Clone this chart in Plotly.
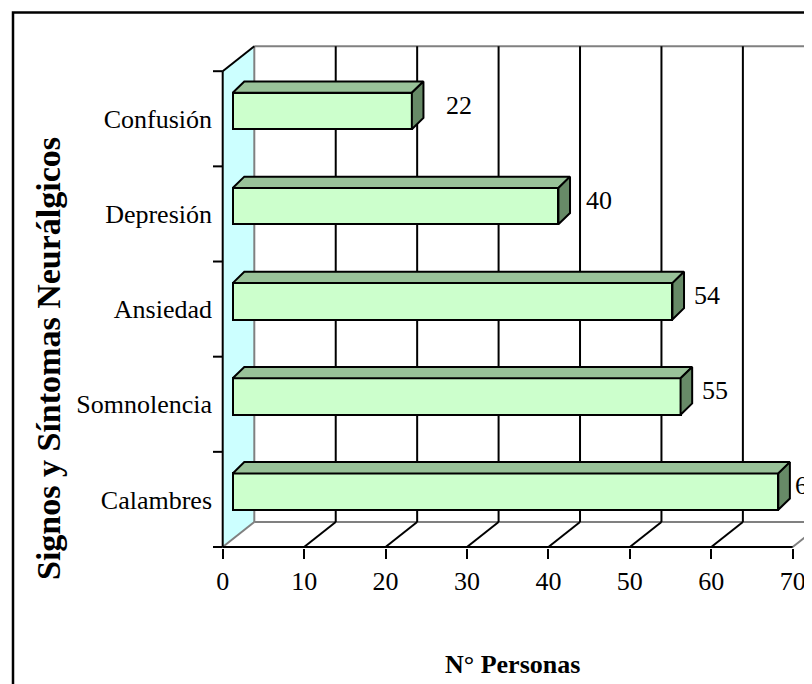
import plotly.graph_objects as go

categorias = ["Calambres", "Somnolencia", "Ansiedad", "Depresión", "Confusión"]
personas = [67, 55, 54, 40, 22]
ticks_x = [0, 10, 20, 30, 40, 50, 60, 70]

# the page adds an 8px body margin, so the figure is 8px smaller and everything
# below is measured in the figure's own pixels (reference pixel - 8)
OFF = 8
W, H = 812 - OFF, 684 - OFF
ML, MR, MT, MB = 213 - OFF, 0, 30 - OFF, H - (548 - OFF)
PX_X = 8.143           # pixels per persona
PX_Y = 95.16           # pixels per category
X0_PX = 222.7 - OFF    # pixel where 0 sits on the front axis
FONT = "Liberation Serif, Times New Roman, serif"

# axis ranges so that the front axis lands where the original has it
x_min = (ML - X0_PX) / PX_X
x_max = x_min + (W - ML - MR) / PX_X
y_min = -0.5 - 1 / PX_Y
y_max = y_min + (H - MT - MB) / PX_Y

# fake 3D: depth of walls and bars as data offsets
wdx, wdy = 31.6 / PX_X, 25 / PX_Y
bx0, by0 = 10 / PX_X, 7.8 / PX_Y
bdx, bdy = 11.6 / PX_X, 11.3 / PX_Y
bh = 36.4 / PX_Y

y_lo, y_hi = -0.5, len(categorias) - 0.5
x_end = ticks_x[-1]


def px_to_paper(px, py):
    # px, py in reference pixels
    px, py = px - OFF, py - OFF
    return (px - ML) / (W - ML - MR), (H - MB - py) / (H - MT - MB)


def line(x0, y0, x1, y1, color="black"):
    return dict(type="line", xref="x", yref="y", x0=x0, y0=y0, x1=x1, y1=y1,
                line=dict(color=color, width=2), layer="below")


fig = go.Figure()

# bars: front face
ys = [i + by0 for i in range(len(categorias))]
fig.add_trace(go.Bar(
    x=personas,
    y=ys,
    base=bx0,
    orientation="h",
    width=bh,
    marker=dict(color="#CCFFCC", line=dict(color="black", width=2)),
    hoverinfo="skip",
    showlegend=False
))

# bars: top and side faces
top_x, top_y, side_x, side_y = [], [], [], []
for v, y in zip(personas, ys):
    x0, x1 = bx0, bx0 + v
    yt, yb = y + bh / 2, y - bh / 2
    top_x += [x0, x0 + bdx, x1 + bdx, x1, x0, None]
    top_y += [yt, yt + bdy, yt + bdy, yt, yt, None]
    side_x += [x1, x1 + bdx, x1 + bdx, x1, x1, None]
    side_y += [yt, yt + bdy, yb + bdy, yb, yt, None]

fig.add_trace(go.Scatter(x=top_x, y=top_y, mode="lines", fill="toself",
                         fillcolor="#99C299", line=dict(color="black", width=2),
                         hoverinfo="skip", showlegend=False))
fig.add_trace(go.Scatter(x=side_x, y=side_y, mode="lines", fill="toself",
                         fillcolor="#678A67", line=dict(color="black", width=2),
                         hoverinfo="skip", showlegend=False))

# value labels
for v, y in zip(personas, ys):
    fig.add_annotation(x=6.2 + 0.953 * v, y=y + 0.06, text=str(v), showarrow=False,
                       xanchor="left", yanchor="middle",
                       font=dict(family=FONT, size=26, color="black"))

# walls, floor and gridlines
shapes = []
wall = "M 0,{a} L 0,{b} L {c},{d} L {c},{e} Z".format(
    a=y_lo, b=y_hi, c=wdx, d=y_hi + wdy, e=y_lo + wdy)
shapes.append(dict(type="path", xref="x", yref="y", path=wall,
                   fillcolor="#CCFFFF", line=dict(width=0), layer="below"))
shapes.append(line(wdx, y_lo + wdy, wdx, y_hi + wdy, "#808080"))
shapes.append(line(wdx, y_hi + wdy, x_end + wdx, y_hi + wdy, "#808080"))
shapes.append(line(wdx, y_lo + wdy, x_end + wdx, y_lo + wdy, "#808080"))
shapes.append(line(0, y_hi, wdx, y_hi + wdy))
for t in ticks_x:
    c = "#808080" if t in (ticks_x[0], ticks_x[-1]) else "black"
    shapes.append(line(t, y_lo, t + wdx, y_lo + wdy, c))
    if t not in (ticks_x[0], ticks_x[-1]):
        shapes.append(line(t + wdx, y_lo + wdy, t + wdx, y_hi + wdy))

# front axes and the small category ticks
shapes.append(line(0, y_lo, x_end, y_lo))
shapes.append(line(0, y_lo, 0, y_hi))
for i in range(len(categorias) + 1):
    shapes.append(line(-10.5 / PX_X, i - 0.5, 0, i - 0.5))

# outer frame of the chart
fx0, fy1 = px_to_paper(13, 12.5)
fx1, fy0 = px_to_paper(840, 720)
shapes.append(dict(type="rect", xref="paper", yref="paper", x0=fx0, y0=fy0, x1=fx1, y1=fy1,
                   line=dict(color="black", width=2.5), layer="above"))

# axis titles
tx, ty = px_to_paper(512, 665)
fig.add_annotation(x=tx, y=ty, xref="paper", yref="paper", text="<b>N° Personas</b>",
                   xanchor="center", yanchor="middle",
                   showarrow=False, font=dict(family=FONT, size=26, color="black"))
tx, ty = px_to_paper(48, 359)
fig.add_annotation(x=tx, y=ty, xref="paper", yref="paper",
                   text="<b>Signos y Síntomas Neurálgicos</b>", textangle=-90,
                   xanchor="center", yanchor="middle",
                   showarrow=False, font=dict(family=FONT, size=34, color="black"))

fig.update_layout(
    width=W,
    height=H,
    margin=dict(l=ML, r=MR, t=MT, b=MB, pad=0),
    paper_bgcolor="white",
    plot_bgcolor="white",
    bargap=0,
    shapes=shapes,
    xaxis=dict(
        range=[x_min, x_max],
        tickvals=ticks_x,
        ticks="outside",
        ticklen=10,
        tickwidth=2,
        tickcolor="black",
        showgrid=False,
        zeroline=False,
        showline=False,
        tickfont=dict(family=FONT, size=26, color="black")
    ),
    yaxis=dict(
        range=[y_min, y_max],
        tickvals=list(range(len(categorias))),
        ticktext=categorias,
        ticks="",
        showgrid=False,
        zeroline=False,
        showline=False,
        tickfont=dict(family=FONT, size=26, color="black")
    )
)

fig.write_html("out.html")
